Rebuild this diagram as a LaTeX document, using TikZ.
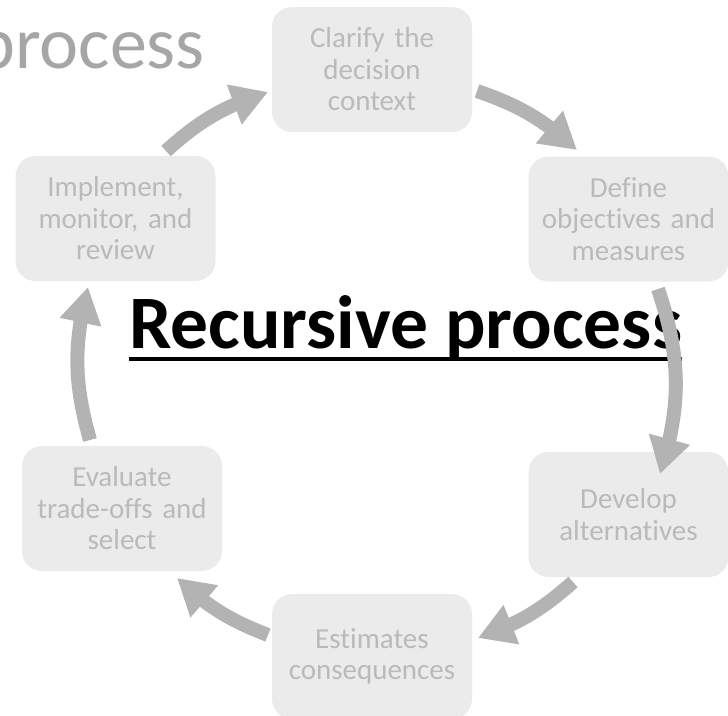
\documentclass[tikz,border=0pt]{standalone}
\usepackage{fontspec}
\setmainfont{Carlito}[Ligatures={NoCommon,NoRare}]
\usetikzlibrary{arrows.meta,bending}
\definecolor{boxfill}{HTML}{EBEBEB}
\definecolor{boxtext}{HTML}{BABABA}
\definecolor{arrowgray}{HTML}{B3B3B3}
\definecolor{titlegray}{HTML}{A6A6A6}
\begin{document}
\begin{tikzpicture}[x=1pt,y=-1pt,
  stage/.style={fill=boxfill, rounded corners=20pt, minimum width=200pt, minimum height=125pt,
    inner sep=0pt, text width=196pt, align=center, text=boxtext,
    font=\fontsize{29}{31.5}\selectfont},
  cyc/.style={draw=arrowgray, line width=14pt, -{Triangle[width=40pt,length=36pt,flex]}}]
\useasboundingbox (0,0) rectangle (728,715);
\clip (0,0) rectangle (728,715);

\node[anchor=base east, text=titlegray, font=\fontsize{74}{80}\selectfont, inner sep=0pt] (ghost) at (205,68) {process};

\node[stage] (clar) at (372,69.5) {Clarify the\\decision\\context};
\node[stage] (def)  at (628.5,219) {Define\\objectives and\\measures};
\node[stage] (dev)  at (628.5,514.5) {Develop\\alternatives};
\node[stage] (est)  at (372,656.5) {Estimates\\consequences};
\node[stage] (eval) at (122,508.5) {Evaluate\\trade-offs and\\select};
\node[stage] (impl) at (115.5,218.5) {Implement,\\monitor, and\\review};

\node[anchor=base west, font=\bfseries\fontsize{75.5}{80}\selectfont, inner sep=0pt] (title) at (129,348) {Recursive process};
\draw[line width=4.5pt] ([yshift=-11pt]title.base west) -- ([yshift=-11pt]title.base east);

\coordinate (t1) at (166,151);  \coordinate (h1) at (268,92);
\coordinate (t2) at (477,91);   \coordinate (h2) at (577,150);
\coordinate (t3) at (658,289);  \coordinate (h3) at (660,474);
\coordinate (t4) at (573,582);  \coordinate (h4) at (478,638);
\coordinate (t5) at (268,635);  \coordinate (h5) at (177,578);
\coordinate (t6) at (90,440);   \coordinate (h6) at (88,287);

\draw[cyc] (t1) to[bend left=12] (h1);
\draw[cyc] (t2) to[bend left=11.5] (h2);
\draw[cyc] (t3) to[bend left=18] (h3);
\draw[cyc] (t4) to[bend left=11] (h4);
\draw[cyc] (t5) to[bend left=11] (h5);
\draw[cyc] (t6) to[bend left=15] (h6);
\end{tikzpicture}
\end{document}
